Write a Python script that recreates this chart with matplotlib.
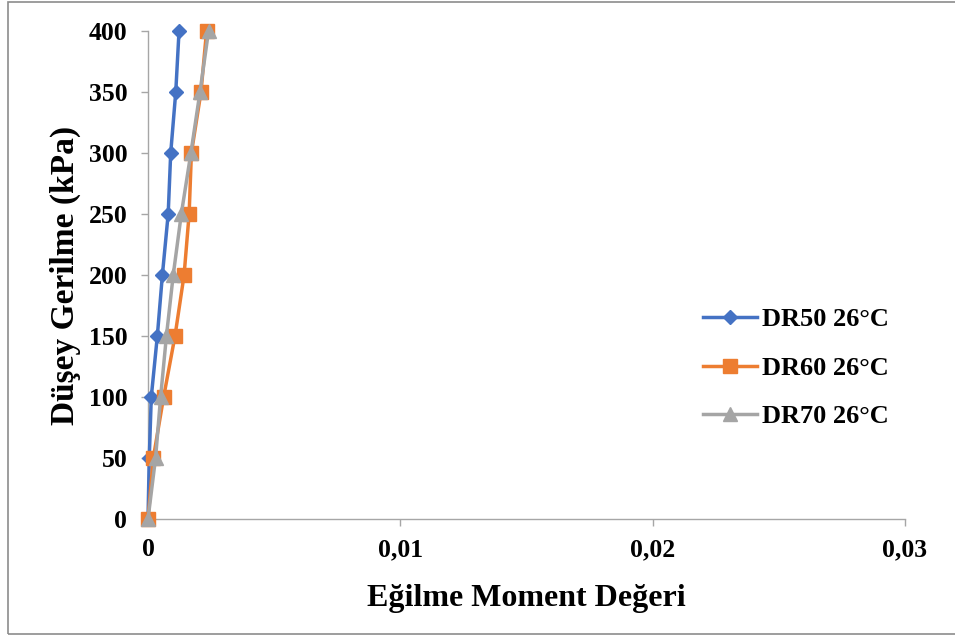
import matplotlib
matplotlib.use("Agg")
import matplotlib.pyplot as plt
from matplotlib.patches import Rectangle
from matplotlib.ticker import FuncFormatter

# Vertical stress levels (kPa)
stress = [0, 50, 100, 150, 200, 250, 300, 350, 400]

# Bending moment values per relative density
dr50 = [0.0, 0.00005, 0.00013, 0.00037, 0.00057, 0.00080, 0.00090, 0.00110, 0.00123]
dr60 = [0.0, 0.00021, 0.00062, 0.00107, 0.00143, 0.00163, 0.00172, 0.00210, 0.00232]
dr70 = [0.0, 0.00030, 0.00050, 0.00073, 0.00100, 0.00132, 0.00170, 0.00206, 0.00240]

series_names = ["DR50 26°C", "DR60 26°C", "DR70 26°C"]
x_ticks = [0, 0.01, 0.02, 0.03]
y_ticks = [0, 50, 100, 150, 200, 250, 300, 350, 400]

plt.rcParams["font.family"] = ["Liberation Serif", "DejaVu Serif"]
plt.rcParams["font.weight"] = "bold"

W, H = 955, 636
fig = plt.figure(figsize=(W / 100, H / 100), dpi=100)
ax = fig.add_axes([148 / W, 1 - 519 / H, (905 - 148) / W, (519 - 31) / H])

# thin frame round the chart area (open on the right)
fig.patches.append(Rectangle((8 / W, (H - 634) / H), (W + 20 - 8) / W, (634 - 1.5) / H,
                             transform=fig.transFigure, fill=False,
                             edgecolor="#8c8c8c", linewidth=1.2, clip_on=False))

styles = [("#4472C4", "D", 7.5), ("#ED7D31", "s", 9.5), ("#A5A5A5", "^", 10)]
for vals, name, (col, mk, ms) in zip([dr50, dr60, dr70], series_names, styles):
    ax.plot(vals, stress, color=col, marker=mk, markersize=ms, linewidth=2.5,
            label=name, clip_on=False, zorder=3)

ax.set_xlim(0, 0.03)
ax.set_ylim(0, 400)
ax.set_xticks(x_ticks)
ax.set_yticks(y_ticks)
ax.xaxis.set_major_formatter(FuncFormatter(
    lambda v, p: "0" if v == 0 else f"{v:.2f}".replace(".", ",")))

for side in ("top", "right"):
    ax.spines[side].set_visible(False)
for side in ("left", "bottom"):
    ax.spines[side].set_color("#a6a6a6")
    ax.spines[side].set_linewidth(1.0)

ax.tick_params(axis="both", direction="out", length=5, color="#a6a6a6",
               labelsize=18.5, width=1.0)
ax.tick_params(axis="x", pad=9)
ax.tick_params(axis="y", pad=10)
for lbl in ax.get_xticklabels() + ax.get_yticklabels():
    lbl.set_fontweight("bold")

ax.set_xlabel("Eğilme Moment Değeri", fontsize=23, fontweight="bold", labelpad=16)
ax.set_ylabel("Düşey Gerilme (kPa)", fontsize=24, fontweight="bold", labelpad=5)

leg = ax.legend(loc="center left", bbox_to_anchor=(0.719, 0.309), frameon=False,
                prop={"size": 19, "weight": "bold"}, handlelength=2.05,
                labelspacing=0.95, handletextpad=0.2, borderaxespad=0)

fig.savefig("out.png", dpi=100)
